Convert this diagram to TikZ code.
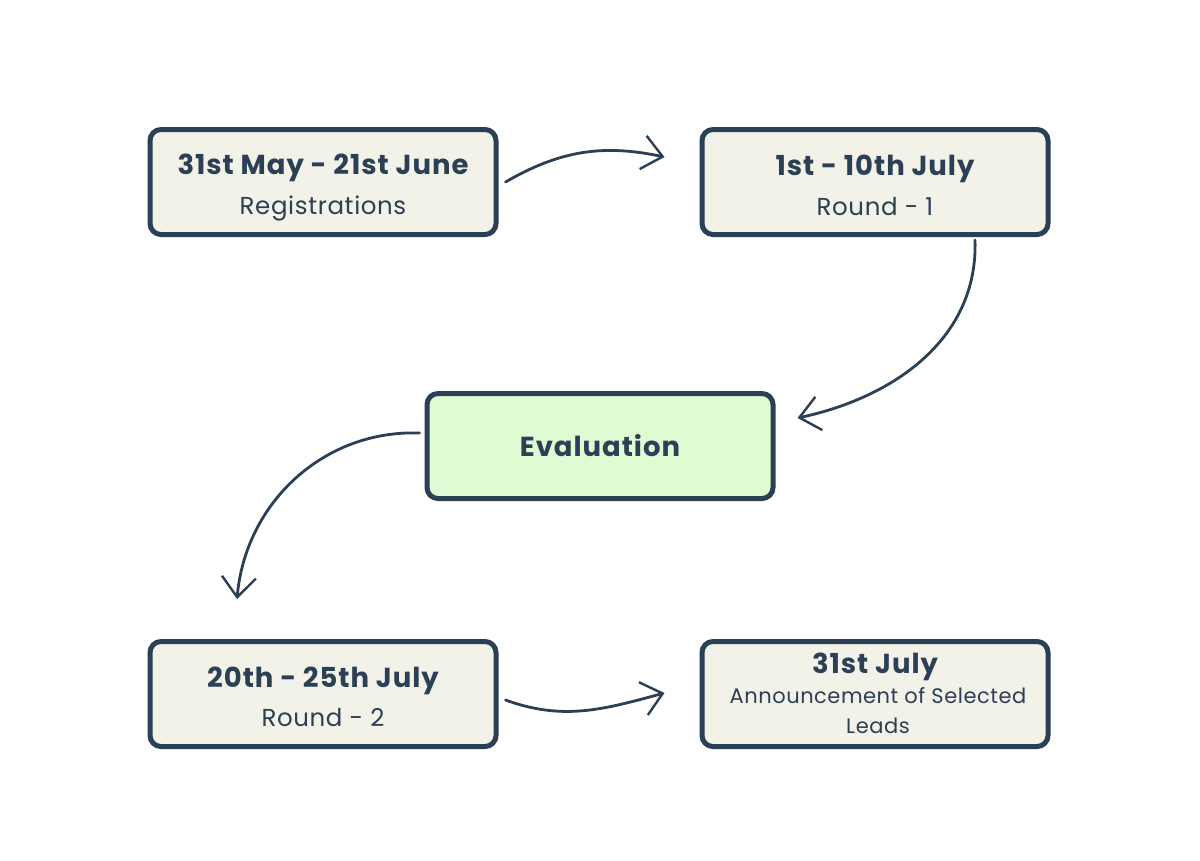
\documentclass[tikz,border=0pt]{standalone}
\usepackage{fontspec}
\setmainfont{Poppins}
\newfontfamily\spfam{Poppins}[LetterSpace=2.5]
\newfontfamily\spfamb{Poppins}[LetterSpace=3.5]
\usetikzlibrary{arrows.meta}
\definecolor{ink}{HTML}{2B3F55}
\definecolor{boxfill}{HTML}{F3F2E8}
\definecolor{evfill}{HTML}{DEFBD3}
\tikzset{
  stepbox/.style={draw=ink, line width=5pt, rounded corners=11pt, fill=boxfill,
    minimum width=346pt, minimum height=105pt, inner sep=0pt},
  evbox/.style={stepbox, fill=evfill},
  ttl/.style={text=ink, inner sep=0pt, anchor=base, font=\spfamb\bfseries\fontsize{27.5}{32}\selectfont},
  sub/.style={text=ink, inner sep=0pt, anchor=base, font=\spfam\fontsize{24.5}{28}\selectfont},
  subsm/.style={text=ink, inner sep=0pt, anchor=base, font=\spfam\fontsize{21}{26}\selectfont},
  conn/.style={draw=ink, line width=2.8pt, line cap=round,
    -{Straight Barb[length=20pt,width=34pt,line width=2.4pt]}}
}
\begin{document}
\begin{tikzpicture}[x=1pt,y=-1pt]
\useasboundingbox (0,0) rectangle (1200,860);
\fill[white] (0,0) rectangle (1200,860);
\node[stepbox] (b1) at (323,182) {};
\node[stepbox] (b2) at (875,182) {};
\node[evbox] (ev) at (600,446) {};
\node[stepbox] (b4) at (323,694) {};
\node[stepbox] (b5) at (875,694) {};
\node[ttl] (b1t) at ([yshift=8pt]b1.center) {31st May - 21st June};
\node[sub] (b1s) at ([yshift=-32pt]b1.center) {Registrations};
\node[ttl] (b2t) at ([yshift=7pt]b2.center) {1st - 10th July};
\node[sub] (b2s) at ([yshift=-33pt]b2.center) {Round - 1};
\node[ttl, anchor=center] (evt) at (ev.center) {Evaluation};
\node[ttl] (b4t) at ([yshift=7pt]b4.center) {20th - 25th July};
\node[sub] (b4s) at ([yshift=-32pt]b4.center) {Round - 2};
\node[ttl] (b5t) at ([yshift=21pt]b5.center) {31st July};
\node[subsm] (b5s) at ([xshift=3pt,yshift=-9pt]b5.center) {Announcement of Selected};
\node[subsm] (b5u) at ([xshift=3pt,yshift=-39pt]b5.center) {Leads};
\draw[conn] ([xshift=7pt]b1.east) to[out=30,in=168] ([xshift=-35pt,yshift=25pt]b2.west);
\draw[conn] ([xshift=100pt,yshift=-3pt]b2.south) to[out=-88,in=12] ([xshift=22pt,yshift=28pt]ev.east);
\draw[conn] ([xshift=-5pt,yshift=13pt]ev.west) to[out=178,in=85] ([xshift=-86pt,yshift=40pt]b4.north);
\draw[conn] ([xshift=7pt,yshift=-6pt]b4.east) to[out=-20,in=195] ([xshift=-35pt,yshift=1pt]b5.west);
\end{tikzpicture}
\end{document}
